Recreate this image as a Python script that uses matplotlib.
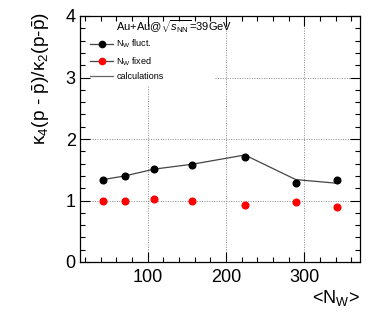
import matplotlib
matplotlib.use("Agg")
import matplotlib.pyplot as plt
from matplotlib.lines import Line2D
from matplotlib.ticker import MultipleLocator

plt.rcParams['font.family'] = ['Liberation Sans', 'DejaVu Sans']
plt.rcParams['mathtext.fontset'] = 'custom'
plt.rcParams['mathtext.rm'] = 'Liberation Sans'
plt.rcParams['mathtext.it'] = 'Liberation Sans:italic'
plt.rcParams['mathtext.bf'] = 'Liberation Sans:bold'

# Data
n_w = [43, 71, 108, 157, 224, 289, 342]
fluct = [1.34, 1.40, 1.51, 1.58, 1.71, 1.28, 1.33]
fluct_err = [0.02, 0.02, 0.02, 0.02, 0.02, 0.04, 0.05]
fixed = [1.00, 1.00, 1.02, 1.00, 0.92, 0.98, 0.90]
fixed_err = [0.01, 0.01, 0.01, 0.01, 0.01, 0.04, 0.02]
calc = [1.34, 1.40, 1.51, 1.59, 1.74, 1.34, 1.28]
y_ticks = [0, 1, 2, 3, 4]
x_ticks = [100, 200, 300]

W, H = 374, 317
fig = plt.figure(figsize=(W / 100, H / 100), dpi=100)
L, R, T, B = 80, 360, 16, 262
ax = fig.add_axes([L / W, 1 - B / H, (R - L) / W, (B - T) / H])
ax.set_xlim(13.5, 371)
ax.set_ylim(0, 4)

# partial grid (legend area is blank in the reference)
gk = dict(color='#888888', linestyle=(0, (1, 1.5)), linewidth=0.7, zorder=0.5)
ax.axhline(1, **gk)
ax.axhline(2, **gk)
ax.axhline(3, xmin=0.482, **gk)
ax.axvline(100, ymax=0.72, **gk)
ax.axvline(200, **gk)
ax.axvline(300, **gk)

ax.plot(n_w, calc, color='#444444', linewidth=0.9, zorder=2)
ax.errorbar(n_w, fluct, yerr=fluct_err, fmt='o', color='black', ms=4.8,
            elinewidth=0.9, capsize=0, zorder=3)
ax.errorbar(n_w, fixed, yerr=fixed_err, fmt='o', color='red', ms=4.8,
            elinewidth=0.9, capsize=0, ecolor='#666666', zorder=3)

ax.set_yticks(y_ticks)
ax.set_xticks(x_ticks)
ax.yaxis.set_minor_locator(MultipleLocator(0.2))
ax.xaxis.set_minor_locator(MultipleLocator(20))
ax.tick_params(which='both', direction='in', top=True, right=True, labelsize=13)
ax.tick_params(which='major', length=7, width=0.8)
ax.tick_params(which='minor', length=3.5, width=0.8)
ax.tick_params(axis='y', pad=3)
ax.tick_params(axis='x', pad=5)
for s in ax.spines.values():
    s.set_linewidth(0.9)

fig.text(41 / W, 1 - 12 / H,
         'κ$_4$(p - $\\bar{\\mathrm{p}}$)/κ$_2$(p-$\\bar{\\mathrm{p}}$)',
         rotation=90, ha='center', va='top', fontsize=13.8)
fig.text(360 / W, 1 - 298 / H, r'<N$_{\mathrm{W}}$>', ha='right', va='center',
         fontsize=13)

fig.text(116 / W, 1 - 27 / H, r'Au+Au@$\sqrt{s_{\mathrm{NN}}}$=39GeV',
         ha='left', va='center', fontsize=8)

handles = [
    Line2D([], [], color='#444444', lw=0.9, marker='o', mfc='black', mec='black', ms=4.5),
    Line2D([], [], color='#444444', lw=0.9, marker='o', mfc='red', mec='red', ms=4.5),
    Line2D([], [], color='#666666', lw=0.9),
]
labels = [r'N$_{\mathrm{W}}$ fluct.', r'N$_{\mathrm{W}}$ fixed', 'calculations']
leg = ax.legend(handles, labels, loc='upper left',
                bbox_to_anchor=(90 / W, 1 - 38 / H), bbox_transform=fig.transFigure,
                frameon=False, fontsize=6.5, handlelength=2.55, handletextpad=0.35,
                labelspacing=0.5, borderpad=0, borderaxespad=0)

fig.savefig('out.png', dpi=100)
